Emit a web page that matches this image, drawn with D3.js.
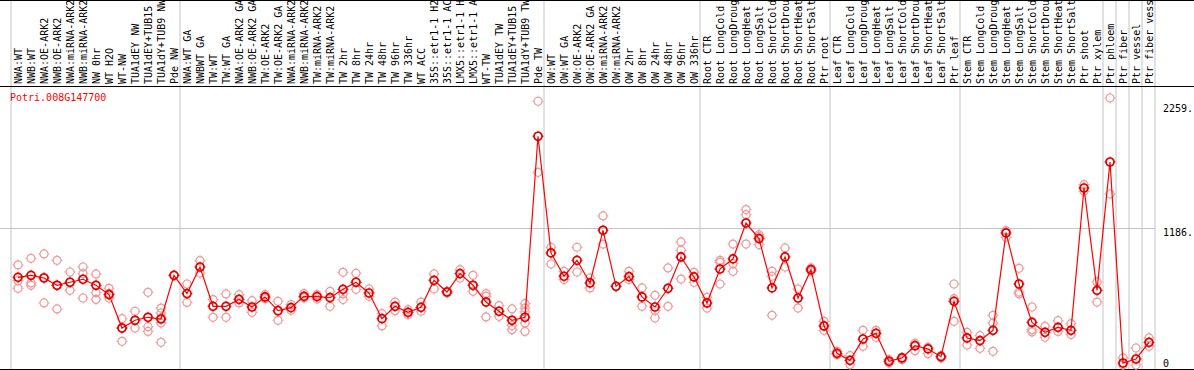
<!DOCTYPE html>
<html>
<head>
<meta charset="utf-8">
<script src="https://cdn.jsdelivr.net/npm/d3@7"></script>
<style>
  body { margin: 0; background: #fff; }
  svg { display: block; }
  text { font-family: "DejaVu Sans Mono", monospace; font-size: 10px; }
</style>
</head>
<body>
<svg id="chart"></svg>
<script>
const W = 1194, H = 370;

const GENE = 'Potri.008G147700';

// column labels (already cut to 14 chars like the source)
const LABELS = [
  'NWA:WT','NWB:WT','NWA:OE-ARK2','NWB:OE-ARK2','NWA:miRNA-ARK2','NWB:miRNA-ARK2','NW 0hr','WT H2O','WT-NW',
  'TUA1dEY NW','TUA1dEY+TUB15','TUA1dY+TUB9 NW','Pde NW',
  'NWA:WT GA','NWBWT GA','TW:WT','TW:WT GA','NWA:OE-ARK2 GA','NWB:OE-ARK2 GA','TW:OE-ARK2','TW:OE-ARK2 GA',
  'NWA:miRNA-ARK2','NWB:miRNA-ARK2','TW:miRNA-ARK2','TW:miRNA-ARK2','TW 2hr','TW 8hr','TW 24hr','TW 48hr','TW 96hr',
  'TW 336hr','WT ACC','35S::etr1-1 H2','35S::etr1-1 AC','LMX5::etr1-1 H','LMX5::etr1-1 A','WT-TW','TUA1dEY TW',
  'TUA1dEY+TUB15','TUA1dY+TUB9 TW','Pde TW',
  'OW:WT','OW:WT GA','OW:OE-ARK2','OW:OE-ARK2 GA','OW:miRNA-ARK2','OW:miRNA-ARK2','OW 2hr','OW 8hr','OW 24hr',
  'OW 48hr','OW 96hr','OW 336hr',
  'Root CTR','Root LongCold','Root LongDroug','Root LongHeat','Root LongSalt','Root ShortCold','Root ShortDrou',
  'Root ShortHeat','Root ShortSalt','Ptr root',
  'Leaf CTR','Leaf LongCold','Leaf LongDroug','Leaf LongHeat','Leaf LongSalt','Leaf ShortCold','Leaf ShortDrou',
  'Leaf ShortHeat','Leaf ShortSalt','Ptr leaf',
  'Stem CTR','Stem LongCold','Stem LongDroug','Stem LongHeat','Stem LongSalt','Stem ShortCold','Stem ShortDrou',
  'Stem ShortHeat','Stem ShortSalt','Ptr shoot','Ptr xylem',
  'Ptr phloem','Ptr fiber','Ptr vessel','Ptr fiber vess'
];

// mean expression per column
const MEANS = [
  759,776,753,690,716,742,690,609,320,387,
  413,398,776,618,848,508,508,568,502,589,
  470,496,594,592,583,655,716,623,401,508,
  456,499,733,632,791,690,545,465,387,413,
  1980,970,768,906,710,1166,681,765,589,502,
  664,935,762,537,831,918,1229,1094,667,935,
  580,825,338,101,40,225,274,32,61,167,
  139,72,551,234,211,300,1143,701,369,283,
  326,300,1532,646,1757,17,52,196
];

// replicate values per column
const REPS = [
  [866,730,664],[923,710,690],[961,759,537],[906,690,485],[805,716,646],[848,791,580],[788,626,568],[664,620,580],
  [401,320,205],[465,320],[629,332,291],[493,450,407,364,196],[776],[701,542],[903,796],[566,413],[615,413],
  [609,537],[557,456],[609,574],[551,387],[522,473],[618,580],[609,571],[638,508],[802,615,566],[794,655],
  [658,594],[444,338],[545,470],[479,436],[545,465],[788,658],[638,623],[825,753],[776,638],[618,594,416],
  [514,421],[485,341,306],[531,493,459,364,291],[2283,1668],[1019,874],[811,739],[1019,805],[753,667],
  [1290,1047],[681],[811,739],[667,508],[603,470,407],[840,508],[1065,993,744],[802,716],[586,493],
  [906,889,701],[1047,877,811],[1345,1301,1047],[1128,1114,1042],[811,768,430],[1013,848],[658,493],[840,811],
  [378,300],[118,89],[81,3],[300,162],[300,240],[46,17],[66,46],[188,124],[153,98],[81,61],[701,574,378],
  [283,173],[254,144],[430,364,118],[1163,1105],[837,632,615],[502,306,286],[335,240],[384,291],[358,263],
  [1561,1503],[719,545],[2311,1480],[61,0],[147,0],[234,162]
];

// column indices where group separators fall
const BOUNDS = [0,13,41,53,63,73,84,85,86,87,88];
const GRID = [1186];
const TICKS = [0,1186,2259];

const svg = d3.select('#chart').attr('width', W).attr('height', H);

const x = d3.scaleBand().domain(d3.range(LABELS.length)).range([11.5, 1155.5]);
const cx = i => x(i) + x.bandwidth() / 2;
const y = d3.scaleLinear().domain([0, 2259]).range([365, 104]);
const bx = b => (b < LABELS.length ? x(b) : x.range()[1]) - 0.5;

// separators + grid
svg.append('g').selectAll('line').data(BOUNDS).join('line')
  .attr('x1', bx).attr('x2', bx).attr('y1', 0).attr('y2', H)
  .attr('stroke', '#c4c4c4').attr('stroke-width', 1);
svg.append('g').selectAll('line').data(GRID).join('line')
  .attr('x1', 0).attr('x2', x.range()[1]).attr('y1', d => Math.round(y(d)) + 0.5).attr('y2', d => Math.round(y(d)) + 0.5)
  .attr('stroke', '#c4c4c4').attr('stroke-width', 1);

// frame lines
[0.5, 86.5, 369.5].forEach(yy => {
  svg.append('line').attr('x1', 0).attr('x2', W).attr('y1', yy).attr('y2', yy)
    .attr('stroke', '#000').attr('stroke-width', 1);
});

// column labels
svg.append('g').selectAll('text').data(LABELS).join('text')
  .attr('transform', (d, i) => `translate(${cx(i) + 3.5},84) rotate(-90)`)
  .attr('fill', '#000').text(d => d);

// title
svg.append('text').attr('x', 10).attr('y', 101).attr('fill', '#ff0000').text(GENE);

// right value labels
const ax = svg.append('g').attr('transform', 'translate(1163,0)')
  .call(d3.axisRight(y).tickValues(TICKS).tickSize(0).tickPadding(0)
    .tickFormat(d => d ? d + '.' : '0'));
ax.select('.domain').remove();
ax.selectAll('text').attr('fill', '#000')
  .attr('dy', d => Math.min(y(d) + 7.5, 366) - y(d));

const stub = 'M0,-4v-1.5M0,4v1.5M-4,0h-1.5M4,0h1.5';
function marker(g, color, sw) {
  g.append('circle').attr('r', 4).attr('fill', 'none').attr('stroke', color).attr('stroke-width', sw);
  g.append('path').attr('d', stub).attr('stroke', color).attr('stroke-width', 1);
}

// replicates
const reps = [];
REPS.forEach((arr, i) => arr.forEach(v => reps.push({i, v})));
svg.append('g').selectAll('g').data(reps).join('g')
  .attr('transform', d => `translate(${cx(d.i)},${y(d.v)})`)
  .each(function() { marker(d3.select(this), '#ee9a9a', 1.2); });

// mean line
svg.append('path').datum(MEANS)
  .attr('d', d3.line().x((d, i) => cx(i)).y(d => y(d)))
  .attr('fill', 'none').attr('stroke', '#ff0000').attr('stroke-width', 1.2);

// mean markers
svg.append('g').selectAll('g').data(MEANS).join('g')
  .attr('transform', (d, i) => `translate(${cx(i)},${y(d)})`)
  .each(function() { marker(d3.select(this), '#e00000', 1.7); });
</script>
</body>
</html>
